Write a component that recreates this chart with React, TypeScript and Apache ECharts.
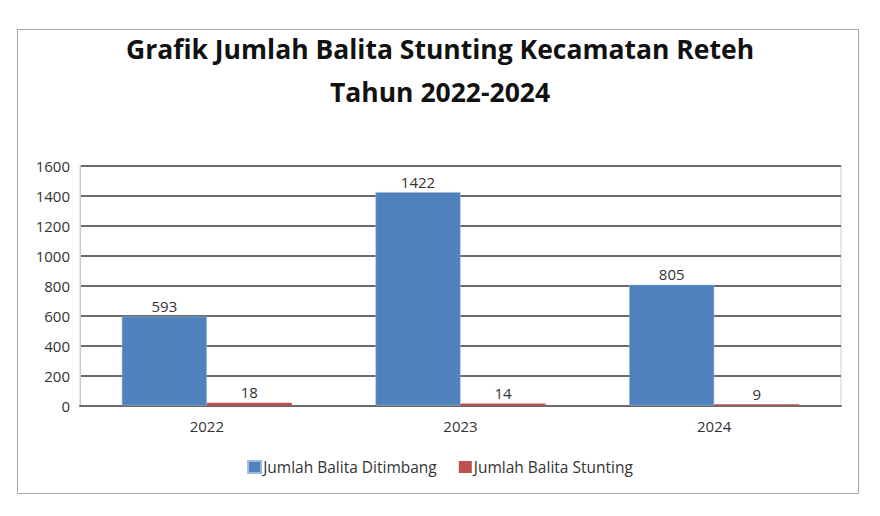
import React, { useEffect, useRef } from "react";
import * as echarts from "echarts";

const categories = ["2022", "2023", "2024"];
const ditimbang = [593, 1422, 805];
const stunting = [18, 14, 9];
const seriesNames = ["Jumlah Balita Ditimbang", "Jumlah Balita Stunting"];
const titleLines = ["Grafik Jumlah Balita Stunting Kecamatan Reteh", "Tahun 2022-2024"];

export default function App() {
  const ref = useRef<HTMLDivElement>(null);
  useEffect(() => {
    document.body.style.margin = "0";
    const chart = echarts.init(ref.current!, null, { renderer: "svg" });
    const font = "Open Sans";
    chart.setOption({
      animation: false,
      backgroundColor: "#ffffff",
      textStyle: { fontFamily: font },
      title: {
        text: titleLines.join("\n"),
        left: "center",
        top: 27,
        padding: 0,
        textStyle: { fontFamily: font, fontWeight: "bold", fontSize: 26.5, lineHeight: 43, color: "#111" },
      },
      graphic: [
        {
          type: "rect",
          shape: { x: 17.5, y: 29.5, width: 841, height: 464 },
          style: { fill: "none", stroke: "#a6a6a6", lineWidth: 1 },
          silent: true,
        },
      ],
      legend: {
        top: 459,
        left: "center",
        padding: 0,
        icon: "rect",
        itemWidth: 13,
        itemHeight: 12,
        itemGap: 22,
        textStyle: { fontFamily: font, fontSize: 15.5, color: "#333", padding: [0, 0, 0, -3] },
        data: seriesNames,
      },
      grid: {
        left: 80,
        right: 39,
        top: 165.5,
        bottom: 110.5,
        show: true,
        borderColor: "#d0d0d0",
        borderWidth: 1,
      },
      xAxis: {
        type: "category",
        data: categories,
        axisTick: { show: false },
        axisLine: { lineStyle: { color: "#6b6b6b", width: 2 } },
        axisLabel: { fontFamily: font, fontSize: 15, color: "#333", margin: 13 },
      },
      yAxis: {
        type: "value",
        min: 0,
        max: 1600,
        interval: 200,
        axisLine: { show: true, lineStyle: { color: "#c8c8c8", width: 1 } },
        axisTick: { show: false },
        axisLabel: { fontFamily: font, fontSize: 15, color: "#333", margin: 10, formatter: (v: number) => String(v) },
        splitLine: { lineStyle: { color: "#6b6b6b", width: 2 } },
      },
      series: [
        {
          name: seriesNames[0],
          type: "bar",
          data: ditimbang,
          barWidth: 85,
          barGap: "0%",
          itemStyle: { color: "#4F81BD", borderColor: "#9cb9e0", borderWidth: 0.5 },
          label: { show: true, position: "top", fontFamily: font, fontSize: 15, color: "#333", distance: 3 },
        },
        {
          name: seriesNames[1],
          type: "bar",
          data: stunting,
          barWidth: 85,
          itemStyle: { color: "#C0504D" },
          label: { show: true, position: "top", fontFamily: font, fontSize: 15, color: "#333", distance: 3 },
        },
      ],
    });
    return () => chart.dispose();
  }, []);
  return <div ref={ref} style={{ position: "absolute", left: 0, top: 0, width: 880, height: 516 }} />;
}
